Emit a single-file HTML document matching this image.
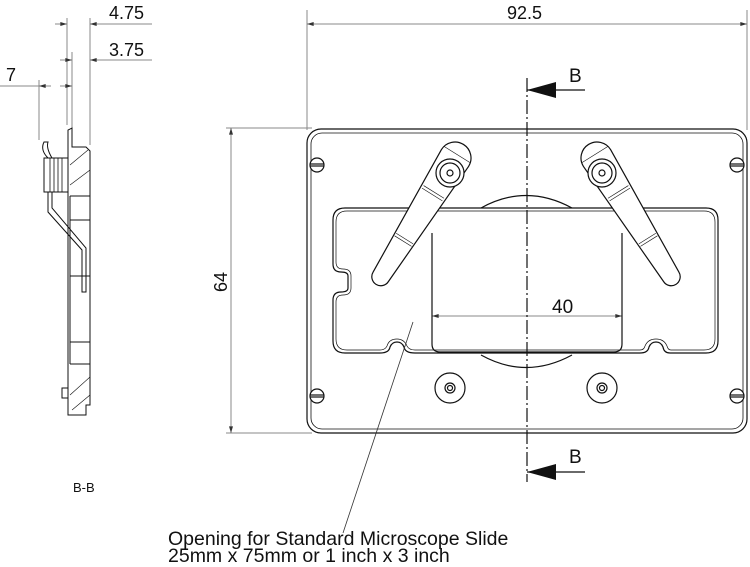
<!DOCTYPE html>
<html><head><style>
html,body{margin:0;padding:0;background:#fff;}
svg{display:block;}
text{font-family:"Liberation Sans",Arial,sans-serif;fill:#111;}
</style></head><body>
<svg width="750" height="567" viewBox="0 0 750 567" xmlns="http://www.w3.org/2000/svg">
<defs>
<marker id="ah" viewBox="0 0 10 6" refX="10" refY="3" markerWidth="8" markerHeight="4" orient="auto-start-reverse"><path d="M0,0L10,3L0,6z" fill="#333"/></marker>
</defs>
<g stroke="#888" stroke-width="1" fill="none">
<line x1="307" y1="10" x2="307" y2="130"/>
<line x1="747" y1="10" x2="747" y2="130"/>
<line x1="307" y1="24" x2="747" y2="24" marker-start="url(#ah)" marker-end="url(#ah)"/>
<line x1="226" y1="128" x2="312" y2="128"/>
<line x1="226" y1="433" x2="312" y2="433"/>
<line x1="231" y1="128" x2="231" y2="433" marker-start="url(#ah)" marker-end="url(#ah)"/>
<line x1="432" y1="316" x2="622" y2="316" marker-start="url(#ah)" marker-end="url(#ah)"/>
<line x1="67" y1="18" x2="67" y2="125"/>
<line x1="90" y1="18" x2="90" y2="145"/>
<line x1="72" y1="52" x2="72" y2="128"/>
<line x1="39" y1="80" x2="39" y2="140"/>
<line x1="55" y1="24" x2="67" y2="24" marker-end="url(#ah)"/>
<line x1="90" y1="24" x2="152" y2="24" marker-start="url(#ah)"/>
<line x1="60" y1="60" x2="72" y2="60" marker-end="url(#ah)"/>
<line x1="90" y1="60" x2="152" y2="60" marker-start="url(#ah)"/>
<line x1="0" y1="86" x2="39" y2="86"/>
<line x1="39" y1="86" x2="51" y2="86" marker-start="url(#ah)"/>
<line x1="60" y1="86" x2="72" y2="86" marker-end="url(#ah)"/>
</g>
<text x="507" y="19" font-size="18">92.5</text>
<text x="552" y="313" font-size="19">40</text>
<text transform="translate(227,292) rotate(-90)" font-size="18">64</text>
<text x="109" y="19" font-size="18">4.75</text>
<text x="109" y="56" font-size="18">3.75</text>
<text x="6" y="81" font-size="18">7</text>
<text x="73" y="492" font-size="13">B-B</text>

<g fill="none" stroke="#111" stroke-width="1.2">
<rect x="307" y="129" width="440" height="304" rx="14"/>
<rect x="311" y="133" width="432" height="296" rx="11" stroke-width="0.8"/>
<path d="M345,208 H706 Q718,208 718,220 V341 Q718,353 706,353 H670 Q664,353 663,347 Q661,342 656,342 Q651,342 649,347 Q648,353 640,353 H415 Q405,353 404,347 Q402,342 397,342 Q392,342 390,347 Q389,353 380,353 H345 Q333,353 333,341 V300 Q333,292 341,292 Q348,292 348,288 V276 Q348,272 341,272 Q333,272 333,264 V220 Q333,208 345,208 Z"/>
<path d="M347,211 H704 Q715,211 715,222 V339 Q715,350 704,350 H671 Q668,350 667,346 Q664,339 656,339 Q648,339 645,346 Q644,350 640,350 H415 Q409,350 407,346 Q404,339 397,339 Q389,339 387,346 Q385,350 380,350 H347 Q336,350 336,339 V302 Q336,295 343,295 Q351,295 351,288 V276 Q351,269 343,269 Q336,269 336,262 V222 Q336,211 347,211 Z" stroke-width="0.7"/>
<path d="M481,208 Q526,183 572,208"/>
<path d="M481,355 Q526,380 572,355"/>
<path d="M432,233 V344 Q432,352 440,352 H614 Q622,352 622,344 V233"/>
</g>
<g fill="#fff" stroke="#111" stroke-width="1.2">
<circle cx="317" cy="165" r="7"/><line x1="310" y1="164" x2="324" y2="164"/><line x1="310" y1="166" x2="324" y2="166"/>
<circle cx="737" cy="165" r="7"/><line x1="730" y1="164" x2="744" y2="164"/><line x1="730" y1="166" x2="744" y2="166"/>
<circle cx="317" cy="396" r="7"/><line x1="310" y1="395" x2="324" y2="395"/><line x1="310" y1="397" x2="324" y2="397"/>
<circle cx="737" cy="396" r="7"/><line x1="730" y1="395" x2="744" y2="395"/><line x1="730" y1="397" x2="744" y2="397"/>
<circle cx="450" cy="388" r="15"/><circle cx="450" cy="388" r="5"/><circle cx="450" cy="388" r="2.5"/>
<circle cx="602" cy="388" r="15"/><circle cx="602" cy="388" r="5"/><circle cx="602" cy="388" r="2.5"/>
</g>
<g fill="#fff" stroke="#111" stroke-width="1.2">
<g transform="translate(455,158) rotate(32)">
<path d="M-16,0 A16,16 0 0 1 16,0 L9,140 A9,9 0 0 1 -9,140 Z"/>
<line x1="-15" y1="-4" x2="15" y2="-4" stroke-width="0.6"/>
<line x1="-12" y1="40" x2="12" y2="40" stroke-width="0.6"/><line x1="-12" y1="43" x2="12" y2="43" stroke-width="0.6"/>
<line x1="-10" y1="95" x2="10" y2="95" stroke-width="0.6"/><line x1="-10" y1="98" x2="10" y2="98" stroke-width="0.6"/>
</g>
<circle cx="450" cy="173" r="14"/><circle cx="450" cy="173" r="10"/><circle cx="450" cy="173" r="3"/>
<g transform="translate(597,158) rotate(-32)">
<path d="M-16,0 A16,16 0 0 1 16,0 L9,140 A9,9 0 0 1 -9,140 Z"/>
<line x1="-15" y1="-4" x2="15" y2="-4" stroke-width="0.6"/>
<line x1="-12" y1="40" x2="12" y2="40" stroke-width="0.6"/><line x1="-12" y1="43" x2="12" y2="43" stroke-width="0.6"/>
<line x1="-10" y1="95" x2="10" y2="95" stroke-width="0.6"/><line x1="-10" y1="98" x2="10" y2="98" stroke-width="0.6"/>
</g>
<circle cx="602" cy="173" r="14"/><circle cx="602" cy="173" r="10"/><circle cx="602" cy="173" r="3"/>
</g>
<line x1="527" y1="78" x2="527" y2="482" stroke="#111" stroke-width="1.2" stroke-dasharray="14,3,2,3"/>
<line x1="527" y1="90" x2="585" y2="90" stroke="#111" stroke-width="1.2"/>
<path d="M527,90 L556,82 L556,98 Z" fill="#111"/>
<text x="569" y="82" font-size="19">B</text>
<line x1="527" y1="472" x2="585" y2="472" stroke="#111" stroke-width="1.2"/>
<path d="M527,472 L556,464 L556,480 Z" fill="#111"/>
<text x="569" y="463" font-size="19">B</text>
<line x1="413" y1="322" x2="343" y2="533" stroke="#333" stroke-width="0.8"/>
<text x="168" y="545" font-size="19.5">Opening for Standard Microscope Slide</text>
<text x="168" y="562" font-size="19.5">25mm x 75mm or 1 inch x 3 inch</text>

<g fill="none" stroke="#111" stroke-width="1">
<path d="M68,147 V130 L72,128 V147 H86 L90,151 V405 L86,405 V415 H68 Z" fill="#fff"/>
<line x1="70" y1="196" x2="90" y2="196"/>
<line x1="70" y1="220" x2="90" y2="220"/>
<line x1="70" y1="276" x2="90" y2="276"/>
<line x1="70" y1="342" x2="90" y2="342"/>
<line x1="70" y1="364" x2="90" y2="364"/>
<line x1="70" y1="196" x2="70" y2="364"/>
<path d="M70,165 L88,150 M70,185 L90,170 M70,395 L90,377 M72,410 L90,395" stroke-width="0.6"/>
<path d="M62,388 h6 v10 h-6 z"/>
<rect x="44" y="158" width="24" height="34"/>
<path d="M50,158 V192 M54,158 V192 M58,158 V192 M62,158 V192" stroke-width="0.8"/>
<path d="M44,142 Q40,150 48,158 L52,158 Q46,148 48,142 Z"/>
<path d="M48,192 V212 L82,250 V292 L86,292 V248 L52,208 V192"/>
</g>
</svg>
</body></html>
